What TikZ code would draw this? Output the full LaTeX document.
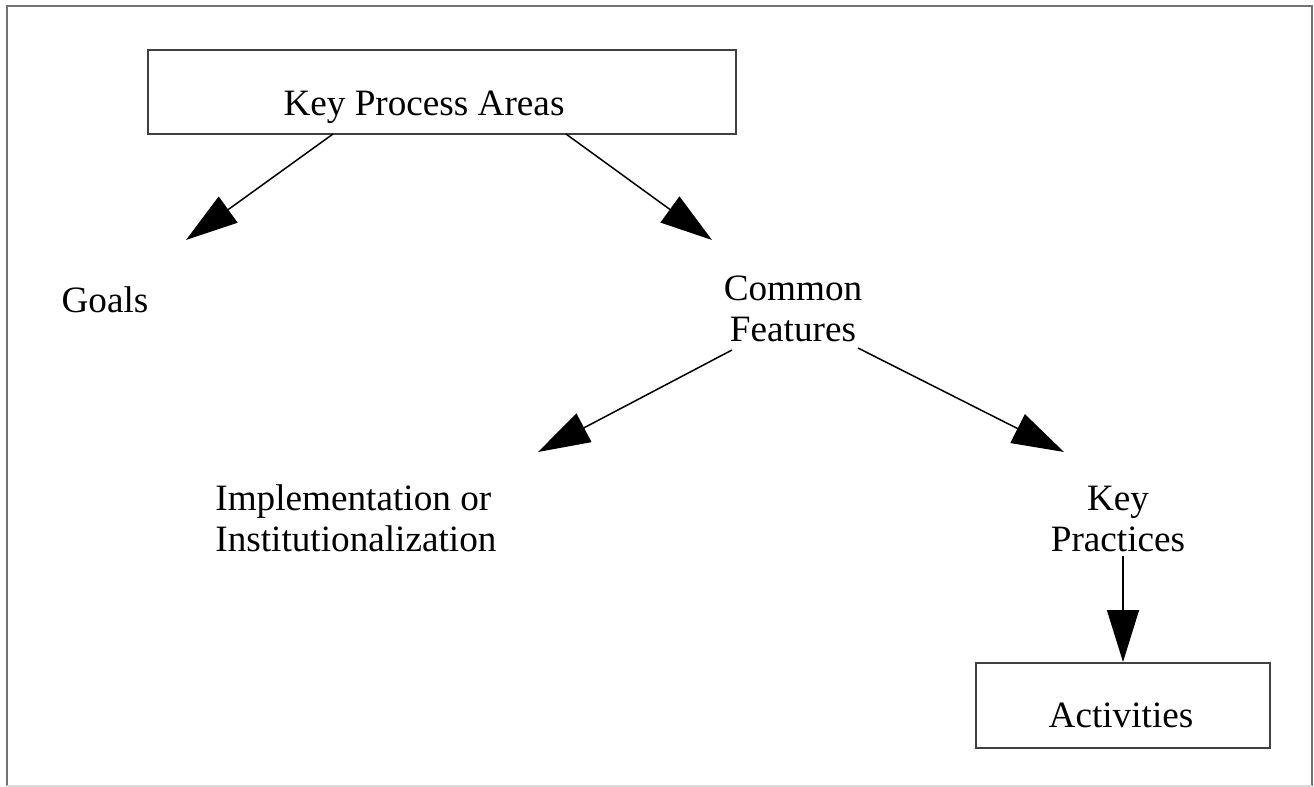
\documentclass[tikz,border=0pt]{standalone}
\usepackage{fontspec}
\setmainfont{Liberation Serif}
\usetikzlibrary{arrows.meta}
\begin{document}
\begin{tikzpicture}[x=0.5pt,y=-0.5pt,
  lbl/.style={inner sep=0pt,font=\fontsize{18.6pt}{20.5pt}\selectfont},
  boxed/.style={draw=black!75,line width=1pt},
  arr/.style={line width=0.75pt,-{Triangle[length=26pt,width=16pt]}}]
\useasboundingbox (0,0) rectangle (1314,787);
\draw[draw=black!55,line width=1.3pt] (7,786) -- (7,6) -- (1312,6) -- (1312,786);
\draw[draw=black!15,line width=1pt] (7,786) -- (1312,786);
% boxes
\node[boxed,minimum width=294pt,minimum height=42pt] (kpa) at (442,92) {};
\node[lbl,anchor=base] (kpat) at (424,115) {Key Process Areas};
\node[boxed,minimum width=147pt,minimum height=42.5pt] (act) at (1123,705.5) {};
\node[lbl,anchor=base] (actt) at (1121,727) {Activities};
% labels
\node[lbl,anchor=base] (goals) at (105,312) {Goals};
\node[lbl,align=center] (cf) at (793,309) {Common\\Features};
\node[lbl,align=left,anchor=west] (impl) at (215,518) {Implementation or\\Institutionalization};
\node[lbl,align=center] (kp) at (1118,519) {Key\\Practices};
% arrow coordinates
\coordinate (a1s) at (333,134);
\coordinate (a1e) at (186,240);
\coordinate (a2s) at (566,134);
\coordinate (a2e) at (712,240);
\coordinate (a3s) at (732,350);
\coordinate (a3e) at (538,452);
\coordinate (a4s) at (858,348);
\coordinate (a4e) at (1064,452);
\coordinate (a5s) at (1123,556);
\draw[arr] (a1s) -- (a1e);
\draw[arr] (a2s) -- (a2e);
\draw[arr] (a3s) -- (a3e);
\draw[arr] (a4s) -- (a4e);
\draw[arr] (a5s) -- (act.north -| a5s);
\end{tikzpicture}
\end{document}
